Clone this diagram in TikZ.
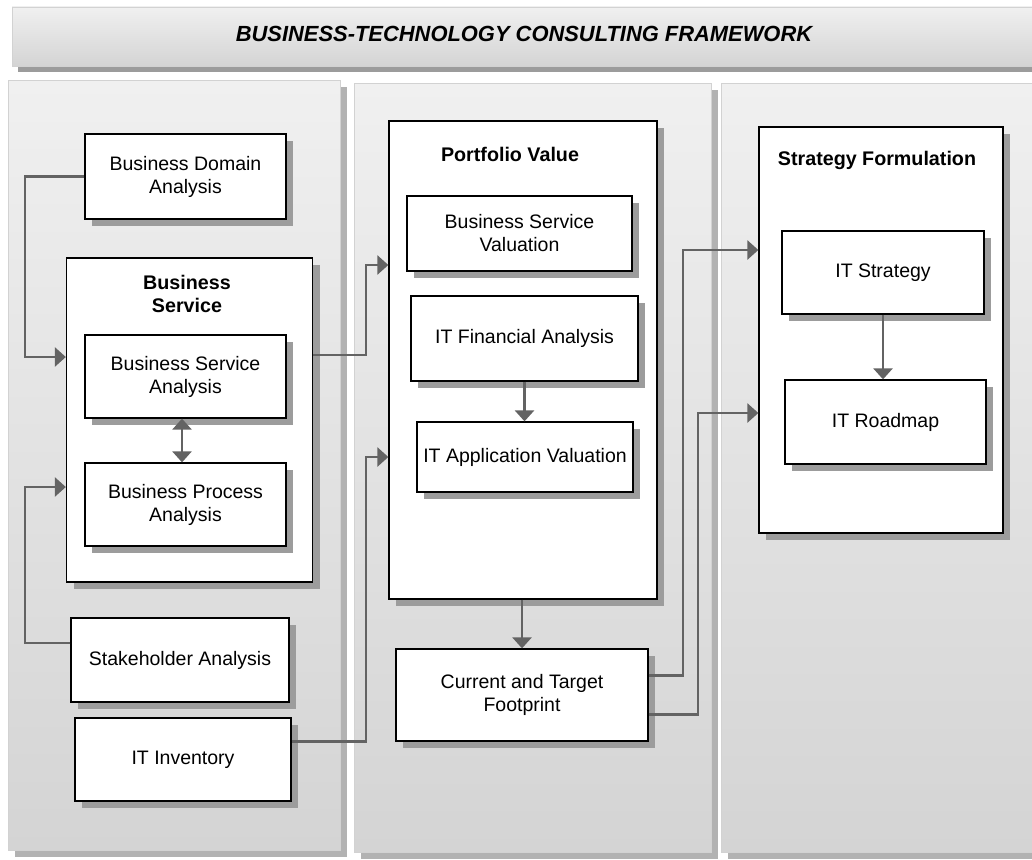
\documentclass[tikz,border=0pt]{standalone}
\usepackage{fontspec}
\setmainfont{Liberation Sans}
\usetikzlibrary{arrows.meta,shadows,calc}
\definecolor{shd}{HTML}{9C9C9C}
\definecolor{pshd}{HTML}{B2B2B2}
\definecolor{conn}{HTML}{636363}
\definecolor{ptop}{HTML}{F0F0F0}
\definecolor{pbot}{HTML}{D4D4D4}
\definecolor{pedge}{HTML}{D2D2D2}
\tikzset{
  boxsh/.style={drop shadow={shadow xshift=7pt,shadow yshift=-7pt,fill=shd,opacity=1}},
  wbox/.style={draw=black,line width=1.3pt,fill=white,inner sep=2pt,align=center,
    font=\fontsize{19.5}{23}\selectfont,boxsh},
  ttl/.style={font=\fontsize{19.7}{23}\selectfont\bfseries,align=center,inner sep=0pt},
  tip/.tip={Triangle[length=11pt,width=19pt]},
  conn/.style={draw=conn,line width=2.7pt,-tip},
  panel/.style={top color=ptop,bottom color=pbot,draw=pedge,line width=0.8pt},
}
\begin{document}
\begin{tikzpicture}[x=1pt,y=-1pt]
\clip (0,0) rectangle (1032,859);
\fill[white] (0,0) rectangle (1032,859);
% title bar
\fill[shd] (18,14) rectangle (1040,72);
\shade[top color=ptop,bottom color=pbot,draw=pedge,line width=0.8pt] (12,7) rectangle (1040,66);
\node[font=\fontsize{21.9}{26}\selectfont\bfseries\itshape,inner sep=0pt] (title) at (524,34) {BUSINESS-TECHNOLOGY CONSULTING FRAMEWORK};
% panels
\fill[pshd] (15,87) rectangle (347,857);
\shade[panel] (8,80) rectangle (340,850);
\fill[pshd] (361,90) rectangle (718,859);
\shade[panel] (354,83) rectangle (711,852);
\fill[pshd] (728,90) rectangle (1040,859);
\shade[panel] (721,83) rectangle (1040,852);
% column 1
\node[wbox,minimum width=201pt,minimum height=85pt] (bda) at (185.5,176.5) {Business Domain\\Analysis};
\node[wbox,minimum width=246pt,minimum height=324pt] (bs) at (189.5,420) {};
\node[ttl] (bst) at (187,294) {Business\\Service};
\node[wbox,minimum width=201pt,minimum height=83pt] (bsa) at (185.5,376.5) {Business Service\\Analysis};
\node[wbox,minimum width=201pt,minimum height=83pt] (bpa) at (185.5,504.5) {Business Process\\Analysis};
\node[wbox,minimum width=218pt,minimum height=84pt] (sha) at (180,660) {Stakeholder Analysis};
\node[wbox,minimum width=216pt,minimum height=83pt] (iti) at (183,759.5) {IT Inventory};
% column 2
\node[wbox,minimum width=268pt,minimum height=478pt] (pv) at (523,360) {};
\node[ttl] (pvt) at (510,154) {Portfolio Value};
\node[wbox,minimum width=225pt,minimum height=75pt] (bsv) at (519.5,233.5) {Business Service\\Valuation};
\node[wbox,minimum width=227pt,minimum height=85pt] (ifa) at (524.5,338.5) {IT Financial Analysis};
\node[wbox,minimum width=216pt,minimum height=70pt] (iav) at (525,457) {IT Application Valuation};
\node[wbox,minimum width=252pt,minimum height=92pt] (ctf) at (522,695) {Current and Target\\Footprint};
% column 3
\node[wbox,minimum width=244pt,minimum height=406pt] (sf) at (881,330) {};
\node[ttl] (sft) at (877,160) {Strategy Formulation};
\node[wbox,minimum width=202pt,minimum height=83pt] (its) at (883,272.5) {IT Strategy};
\node[wbox,minimum width=201pt,minimum height=84pt] (itr) at (885.5,422) {IT Roadmap};
% connectors
\coordinate (j1) at (25,357);
\coordinate (j2) at (25,487);
\draw[conn] (bda.west) -| (j1) -- (bs.west |- j1);
\draw[conn] ($(sha.north west)!0.3!(sha.south west)$) -| (j2) -- (bs.west |- j2);
\draw[conn,tip-tip] ([xshift=-3.5pt]bsa.south) -- ([xshift=-3.5pt]bpa.north);
\coordinate (k1) at (366,265);
\coordinate (k2) at (366,457);
\draw[conn] ($(bs.north east)!0.3!(bs.south east)$) -| (k1) -- (pv.west |- k1);
\draw[conn] ($(iti.north east)!0.29!(iti.south east)$) -| (k2) -- (pv.west |- k2);
\draw[conn] (ifa.south) -- (ifa.south |- iav.north);
\draw[conn] ([xshift=-1pt]pv.south) -- ([xshift=-1pt]pv.south |- ctf.north);
\coordinate (m1) at (683,250);
\coordinate (m2) at (698,413);
\draw[conn] ($(ctf.north east)!0.29!(ctf.south east)$) -| (m1) -- (sf.west |- m1);
\draw[conn] ($(ctf.north east)!0.71!(ctf.south east)$) -| (m2) -- (sf.west |- m2);
\draw[conn] (its.south) -- (its.south |- itr.north);
\end{tikzpicture}
\end{document}
